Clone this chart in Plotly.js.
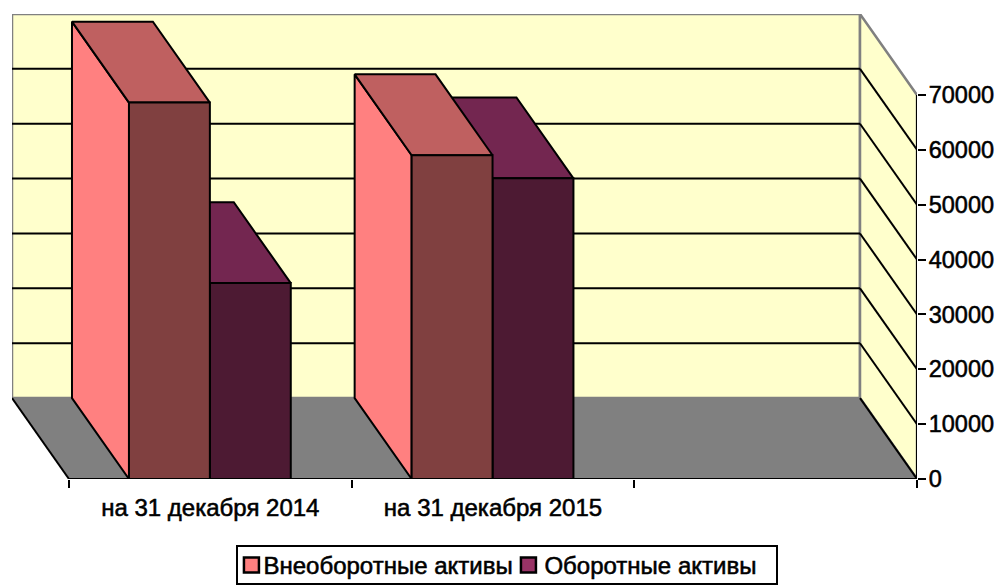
<!DOCTYPE html>
<html><head><meta charset="utf-8">
<script src="https://cdn.plot.ly/plotly-3.0.1.min.js"></script>
<style>html,body{margin:0;padding:0;background:#fff}#c{width:997px;height:585px}
#c svg text{stroke:#000 !important;stroke-width:.55px !important;-webkit-text-stroke:.55px #000}
#c .legendpoints path{transform:translate(28px,0) scale(1.25)}
#c .traces:nth-child(2) .legendpoints path{transform:translate(24px,0) scale(1.25)}
#c .legend rect.bg{height:38px;width:540px;transform:translateY(4px)}
</style>
</head><body><div id="c"></div>
<script>
const categories = ["на 31 декабря 2014", "на 31 декабря 2015"];
const seriesNames = ["Внеоборотные активы", "Оборотные активы"];
const nonCurrent = [68600, 59000];
const current = [35700, 54800];
const valueTicks = [0,10000,20000,30000,40000,50000,60000,70000];

const sideColors = ["#FF8080", "#993366"];
const frontColors = ["#804040", "#4D1A33"];
const topColors = ["#BF6060", "#732650"];

// oblique projection, in axis units
const dx = 0.2016, dy = 14746;
const numCats = 3;
const xMin = -dx, xMax = numCats, yMax = 70000 + dy;
const P = (x, v, d) => [x - d*dx, v + d*dy];

const traces = [];
function poly(points, fill, lineColor, width){
  const pts = points.map(p => P(p[0], p[1], p[2]));
  traces.push({type:"scatter", mode:"lines", x:pts.map(p=>p[0]).concat(pts[0][0]), y:pts.map(p=>p[1]).concat(pts[0][1]),
    fill:"toself", fillcolor:fill, line:{color:lineColor, width:width}, cliponaxis:false, hoverinfo:"skip", showlegend:false, xaxis:"x", yaxis:"y"});
}
function seg(a, b, color, width){
  const p=P(a[0],a[1],a[2]), q=P(b[0],b[1],b[2]);
  traces.push({type:"scatter", mode:"lines", x:[p[0],q[0]], y:[p[1],q[1]], line:{color:color,width:width}, cliponaxis:false, hoverinfo:"skip", showlegend:false});
}
// walls and floor
poly([[0,0,1],[numCats,0,1],[numCats,70000,1],[0,70000,1]], "#FFFFCC", "#808080", 2.5);
poly([[numCats,0,1],[numCats,0,0],[numCats,70000,0],[numCats,70000,1]], "#FFFFCC", "#808080", 2.5);
poly([[0,0,1],[numCats,0,1],[numCats,0,0],[0,0,0]], "#808080", "#808080", 1);
valueTicks.slice(1).forEach(v=>{
  if(v<70000) seg([0,v,1],[numCats,v,1],"#000",2);
  if(v<70000) seg([numCats,v,1],[numCats,v,0],"#000",2);
});
seg([numCats,0,1],[numCats,0,0],"#000",2);
seg([0,0,1],[0,0,0],"#000",2);
seg([0,0,0],[numCats,0,0],"#000",2);
seg([numCats,0,0],[numCats,70000,0],"#000",2);

// bars
const barW = 0.2862, gap = 0.2122;
function bar(x0, v, s){
  const x1 = x0 + barW;
  poly([[x0,0,0],[x0,0,1],[x0,v,1],[x0,v,0]], sideColors[s], "#000", 2);
  poly([[x0,v,0],[x0,v,1],[x1,v,1],[x1,v,0]], topColors[s], "#000", 2);
  poly([[x0,0,0],[x1,0,0],[x1,v,0],[x0,v,0]], frontColors[s], "#000", 2);
}
categories.forEach((c,i)=>{
  bar(i+gap+barW, current[i], 1);
  bar(i+gap, nonCurrent[i], 0);
});

// legend entries
seriesNames.forEach((n,s)=>{
  traces.push({type:"bar", x:[null], y:[null], name:n, marker:{color:sideColors[s], line:{color:"#000",width:2}}, hoverinfo:"skip"});
});
// secondary axis trace for category labels
traces.push({type:"scatter", mode:"none", x:[0.5], y:[0], xaxis:"x2", yaxis:"y", showlegend:false, hoverinfo:"skip"});

const font = {family:"Liberation Sans, Arial, sans-serif", size:24, color:"#000"};
const tickFont = {family:"Liberation Sans, Arial, sans-serif", size:23.5, color:"#000"};
const layout = {
  width:997, height:585, paper_bgcolor:"#fff", plot_bgcolor:"rgba(0,0,0,0)",
  margin:{l:11.5, r:80.3, t:13.5, b:106, pad:0, autoexpand:false},
  font:font, showlegend:true,
  legend:{orientation:"h", x:0.248, xanchor:"left", xref:"paper", y:-0.1332, yanchor:"top", indentation:-15, entrywidth:251,
    bordercolor:"#000", borderwidth:2, bgcolor:"#fff", font:font, itemwidth:30, traceorder:"normal"},
  xaxis:{range:[xMin,xMax], tickvals:[0,1,2,3], ticktext:["","","",""], ticks:"outside", ticklen:8, tickwidth:2, tickcolor:"#000",
    showgrid:false, zeroline:false, showline:false, fixedrange:true},
  xaxis2:{range:[xMin,xMax], overlaying:"x", anchor:"y", side:"bottom", tickmode:"array", tickvals:[0.5,1.5], ticktext:categories, ticks:"", showgrid:false, zeroline:false, showline:false, fixedrange:true, tickfont:font, ticklabelstandoff:12},
  yaxis:{range:[0,yMax], side:"right", tickvals:valueTicks, ticks:"outside", ticklen:8, tickwidth:2, tickcolor:"#000", showgrid:false, zeroline:false, showline:false, tickfont:tickFont, tickformat:"d", fixedrange:true, ticklabelstandoff:-2}
};
Plotly.newPlot("c", traces, layout, {displayModeBar:false, staticPlot:true});
</script></body></html>
